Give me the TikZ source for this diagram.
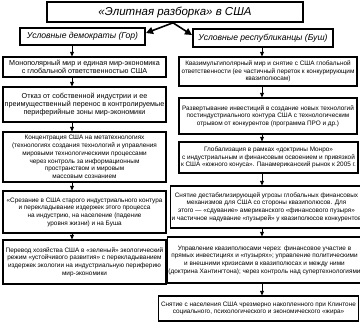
\documentclass[tikz,border=0pt]{standalone}
\usepackage{fontspec}
\setmainfont{Liberation Sans}
\usetikzlibrary{arrows.meta}
\tikzset{
  box/.style={draw=black, line width=1.2pt, fill=white, align=center, inner sep=1pt, anchor=center},
  bigbox/.style={box, line width=1.6pt},
  fs/.style={font=\fontsize{6.4}{7.7}\selectfont},
  fl/.style={font=\fontsize{7.2}{8}\selectfont},
  arr/.style={line width=0.9pt, -{Triangle[length=4.5pt,width=4pt]}},
  barr/.style={line width=1.6pt, -{Triangle[length=7pt,width=7pt]}}
}
\begin{document}
\begin{tikzpicture}[x=1pt,y=-1pt]
\useasboundingbox (0,0) rectangle (360,322);
\node[bigbox, minimum width=256pt, minimum height=20pt, font=\fontsize{11.5}{13}\selectfont\itshape] (T) at (175,12) {«Элитная разборка» в США};
\node[box, minimum width=125pt, minimum height=17pt, font=\fontsize{8.6}{10}\selectfont\itshape] (LS) at (82.5,36.5) {Условные демократы (Гор)};
\node[box, minimum width=140pt, minimum height=18pt, font=\fontsize{8.6}{10}\selectfont\itshape] (RS) at (263,38) {Условные республиканцы (Буш)};

\node[box, fl, minimum width=163pt, minimum height=20pt] (L1) at (84.5,67) {Монополярный мир и единая мир-экономика\\с глобальной ответственностью США};
\node[box, fl, minimum width=163pt, minimum height=35pt] (L2) at (84.5,104.5) {Отказ от собственной индустрии и ее\\преимущественный перенос в контролируемые\\периферийные зоны мир-экономики};
\node[box, fs, minimum width=163pt, minimum height=50pt] (L3) at (84.5,157) {Концентрация США на метатехнологиях\\(технологиях создания технологий и управления\\мировыми технологическими процессами\\через контроль за информационным\\пространством и мировым\\массовым сознанием};
\node[box, fs, minimum width=163pt, minimum height=42pt] (L4) at (84.5,212) {«Срезание в США старого индустриального контура\\и перекладывание издержек этого процесса\\на индустрию, на население (падение\\уровня жизни) и на Буша};
\node[box, fs, minimum width=163pt, minimum height=44pt] (L5) at (84.5,262) {Перевод хозяйства США в «зеленый» экологический\\режим «устойчивого развития» с перекладыванием\\издержек экологии на индустриальную периферию\\мир-экономики};

\node[box, fs, minimum width=178pt, minimum height=29pt] (R1) at (268,71.5) {Квазимультиполярный мир и снятие с США глобальной\\ответственности (ее частичный переток к конкурирующим\\квазиполюсам)};
\node[box, fs, minimum width=178pt, minimum height=36pt] (R2) at (268,116) {Развертывание инвестиций в создание новых технологий\\постиндустриального контура США с технологическим\\отрывом от конкурентов (программа ПРО и др.)};
\node[box, fs, minimum width=179pt, minimum height=31pt] (R3) at (268.5,157.5) {Глобализация в рамках «доктрины Монро»\\с индустриальным и финансовым освоением и привязкой\\к США «южного конуса». Панамериканский рынок к 2005 г.};
\node[box, fs, minimum width=185pt, minimum height=42pt] (R4) at (266.5,207) {Снятие дестабилизирующей угрозы глобальных финансовых\\механизмов для США со стороны квазиполюсов. Для\\этого — «сдувание» американского «финансового пузыря»\\и частичное надувание «пузырей» у квазиполюсов конкурентов};
\node[box, fs, minimum width=187pt, minimum height=46pt] (R5) at (264.5,260) {Управление квазиполюсами через: финансовое участие в\\прямых инвестициях и «пузырях»; управление политическими\\и внешними кризисами в квазиполюсах и между ними\\(доктрина Хантингтона); через контроль над супертехнологиями};
\node[box, fs, minimum width=200pt, minimum height=25pt] (R6) at (258.5,308.5) {Снятие с населения США чрезмерно накопленного при Клинтоне\\социального, психологического и экономического «жира»};

\coordinate (ax) at (72,0);
\coordinate (bx) at (262,0);
\coordinate (tl) at (146,33);
\coordinate (tr) at (192,35);
\draw[barr] (T.south -| 173,0) -- (tl);
\draw[barr] (T.south -| 173,0) -- (tr);
\draw[arr] (LS.south -| ax) -- (L1.north -| ax);
\draw[arr] (L1.south -| ax) -- (L2.north -| ax);
\draw[arr] (L2.south -| ax) -- (L3.north -| ax);
\draw[arr] (L3.south -| ax) -- (L4.north -| ax);
\draw[arr] (L4.south -| ax) -- (L5.north -| ax);
\draw[arr] (RS.south -| bx) -- (R1.north -| bx);
\draw[arr] (R1.south -| bx) -- (R2.north -| bx);
\draw[arr] (R2.south -| bx) -- (R3.north -| bx);
\draw[arr] (R3.south -| bx) -- (R4.north -| bx);
\draw[arr] (R4.south -| bx) -- (R5.north -| bx);
\draw[arr] (R5.south -| bx) -- (R6.north -| bx);
\end{tikzpicture}
\end{document}
